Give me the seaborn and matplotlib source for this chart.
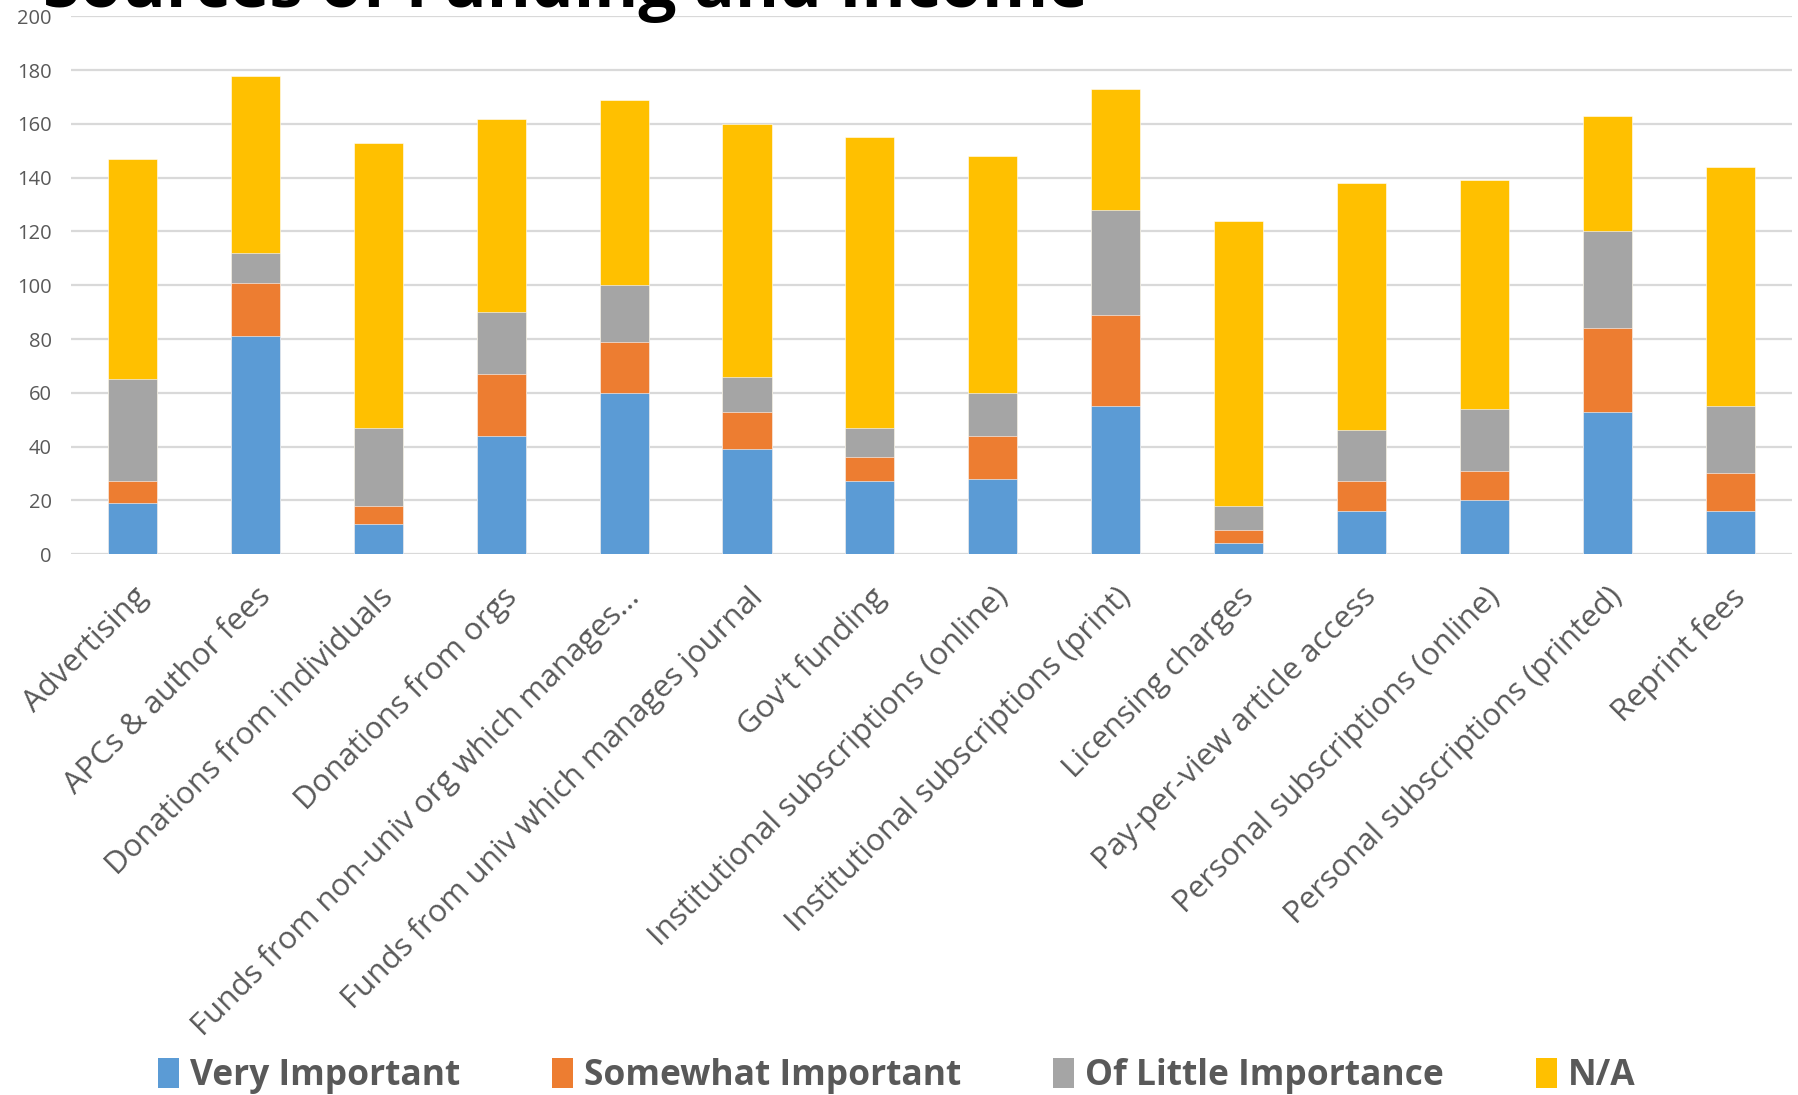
import matplotlib
matplotlib.use("Agg")
import matplotlib.pyplot as plt
import seaborn as sns
import numpy as np
import pandas as pd
from matplotlib.patches import Patch

categories = [
    "Advertising",
    "APCs & author fees",
    "Donations from individuals",
    "Donations from orgs",
    "Funds from non-univ org which manages...",
    "Funds from univ which manages journal",
    "Gov't funding",
    "Institutional subscriptions (online)",
    "Institutional subscriptions (print)",
    "Licensing charges",
    "Pay-per-view article access",
    "Personal subscriptions (online)",
    "Personal subscriptions (printed)",
    "Reprint fees",
]
very_important = [19, 81, 11, 44, 60, 39, 27, 28, 55, 4, 16, 20, 53, 16]
somewhat_important = [8, 20, 7, 23, 19, 14, 9, 16, 34, 5, 11, 11, 31, 14]
little_importance = [38, 11, 29, 23, 21, 13, 11, 16, 39, 9, 19, 23, 36, 25]
not_applicable = [82, 66, 106, 72, 69, 94, 108, 88, 45, 106, 92, 85, 43, 89]

series_names = ["Very Important", "Somewhat Important", "Of Little Importance", "N/A"]
series_colors = ["#5B9BD5", "#ED7D31", "#A5A5A5", "#FFC000"]

df = pd.DataFrame({
    "category": categories,
    "Very Important": very_important,
    "Somewhat Important": somewhat_important,
    "Of Little Importance": little_importance,
    "N/A": not_applicable,
})
cum = df[series_names].cumsum(axis=1)

sns.set_theme(style="white")
plt.rcParams["font.family"] = ["Open Sans", "DejaVu Sans"]

fig = plt.figure(figsize=(17.98, 10.95), dpi=100)
ax = fig.add_axes([0.0395, 0.494, 0.957, 0.491])

# stacked bars: draw cumulative totals back to front
for name, color in reversed(list(zip(series_names, series_colors))):
    sns.barplot(x=df["category"], y=cum[name], color=color, width=0.4,
                saturation=1, ax=ax, edgecolor="white", linewidth=0.4, zorder=3)

ax.set_ylim(0, 200)
ax.set_yticks(np.arange(0, 201, 20))
ax.yaxis.grid(True, color="#D9D9D9", linewidth=1.6, zorder=0)
ax.xaxis.grid(False)
for s in ax.spines.values():
    s.set_visible(False)
ax.set_xlabel("")
ax.set_ylabel("")
ax.tick_params(axis="y", length=0, pad=14, labelsize=14.5, labelcolor="#595959")
ax.tick_params(axis="x", length=0, pad=20, labelsize=22.5, labelcolor="#595959")
ax.set_xticks(range(len(categories)))
ax.set_xticklabels(categories, rotation=45, ha="right", va="top",
                   rotation_mode="anchor")

fig.text(0.024, 0.9935, "Sources of Funding and Income", fontsize=48.5,
         fontweight="bold", color="black", ha="left", va="baseline")

handles = [Patch(facecolor=c, edgecolor="none") for c in series_colors]
fig.legend(handles, series_names, loc="center left", bbox_to_anchor=(0.07, 0.017),
           ncol=4, frameon=False,
           prop={"weight": "bold", "size": 25.5},
           labelcolor="#595959", handlelength=0.6, handleheight=0.9,
           handletextpad=0.3, columnspacing=2.6)

fig.savefig("out.png", dpi=100)
